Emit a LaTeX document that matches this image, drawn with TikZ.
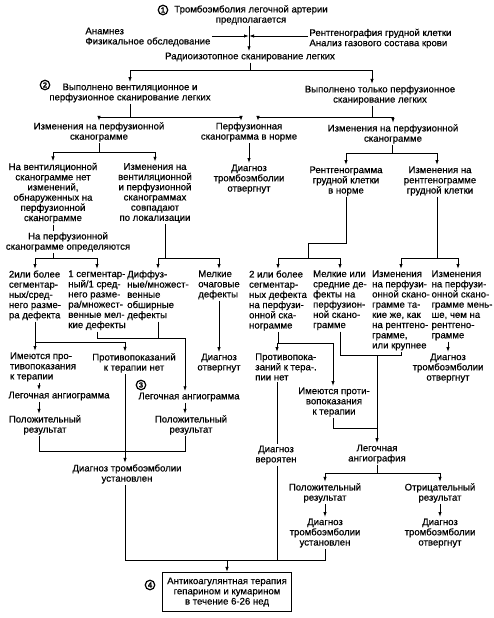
\documentclass[tikz,border=0pt]{standalone}
\usepackage{fontspec}
\setmainfont{Liberation Sans}[FakeBold=0.6]
\usetikzlibrary{arrows.meta}

\begin{document}
\begin{tikzpicture}[x=1pt,y=-1pt,>={Latex[length=5pt,width=3.4pt]},line width=0.9pt,
  font=\fontsize{9.6}{10.2}\selectfont]
\tikzstyle{tx}=[align=center,inner sep=1pt]
\tikzstyle{lx}=[align=left,inner sep=1pt,anchor=north]
\tikzstyle{num}=[circle,draw,line width=1.2pt,inner sep=0pt,minimum size=9.5pt,font=\bfseries\fontsize{7.5}{8}\selectfont]
\useasboundingbox (0,0) rectangle (493,618);

% suspicion and first tests
\node[num] (c1) at (163,10) {1};
\node[tx] (pe) at (251,15) {Тромбоэмболия легочной артерии\\предполагается};
\node[align=left,inner sep=1pt,anchor=west] (anam) at (84,37) {Анамнез\\Физикальное обследование};
\node[align=left,inner sep=1pt,anchor=west] (rgk) at (308,38.5) {Рентгенография грудной клетки\\Анализ газового состава крови};
\node[tx] (rad) at (250,57) {Радиоизотопное сканирование легких};
\coordinate (m0) at (249,36);
\draw[->] (pe.south -| m0) -- (rad.north -| m0);
\draw[->] (anam.east |- m0) -- (m0);
\draw[->] (rgk.west |- m0) -- (m0);

% kind of scan
\coordinate (j0) at (250,70);
\node[num] (c2) at (45,85) {2};
\node[tx] (vv) at (130,93) {Выполнено вентиляционное и\\перфузионное сканирование легких};
\node[tx] (vp) at (380,95) {Выполнено только перфузионное\\сканирование легких};
\draw (rad) -- (j0);
\draw[->] (j0) -| (vv);
\draw[->] (j0) -| ([xshift=-8pt]vp.north);

\node[tx] (izl) at (99,132) {Изменения на перфузионной\\сканограмме};
\node[tx] (pn) at (249,132) {Перфузионная\\сканограмма в норме};
\node[tx] (izr) at (393,134) {Изменения на перфузионной\\сканограмме};
\coordinate (j1) at (130,117);
\coordinate (j2) at (372,117);
\draw (vv) -- (j1);
\draw[->] (j1) -| (izl);
\draw[->] (j1) -| ([xshift=-8pt]pn.north);
\draw ([xshift=-8pt]vp.south) -- (j2);
\draw[->] (j2) -| ([xshift=9pt]pn.north);
\draw[->] (j2) -| (izr);
\node[tx] (dn1) at (249,179) {Диагноз\\тромбоэмболии\\отвергнут};
\draw[->] (pn) -- (dn1);

% ventilation + perfusion
\coordinate (j3) at (99,152);
\node[tx] (nv) at (53,193) {На вентиляционной\\сканограмме нет\\изменений,\\обнаруженных на\\перфузионной\\сканограмме};
\node[tx] (sov) at (155,193) {Изменения на\\вентиляционной\\и перфузионной\\сканограммах\\совпадают\\по локализации};
\draw (izl) -- (j3);
\draw[->] (j3) -| (nv);
\draw[->] (j3) -| (sov);
\node[tx] (npf) at (68,242) {На перфузионной\\сканограмме определяются};
\draw (nv.south) -- (nv.south |- npf.north);
\coordinate (j4) at (53,258);
\draw (npf.south -| j4) -- (j4);
\node[lx] (d2l) at (35,269) {2или более\\сегментар-\\ных/сред-\\него разме-\\ра дефекта};
\node[lx] (s1) at (97,269) {1 сегментар-\\ный/1 сред-\\него разме-\\ра/множест-\\венные мел-\\кие дефекты};
\node[lx] (dif) at (158,269) {Диффуз-\\ные/множест-\\венные\\обширные\\дефекты};
\node[lx] (mel) at (219,269) {Мелкие\\очаговые\\дефекты};
\draw[->] (j4) -| (d2l);
\draw[->] (j4) -| (s1);
\coordinate (j5) at (165,258);
\draw ([xshift=10pt]sov.south) -- (j5);
\draw[->] (j5) -| (dif);
\draw[->] (j5) -| (mel);

% perfusion only
\node[tx] (rn) at (346,181) {Рентгенограмма\\грудной клетки\\в норме};
\node[tx] (izrg) at (440,181) {Изменения на\\рентгенограмме\\грудной клетки};
\coordinate (j6) at (392,153);
\draw (izr.south -| j6) -- (j6);
\draw[->] (j6) -| (rn);
\draw[->] (j6) -| ([xshift=-3pt]izrg.north);
\coordinate (k1) at (308,243);
\coordinate (j7) at (308,258);
\draw (rn) |- (k1) -- (j7);
\node[lx] (d2r) at (278,269) {2 или более\\сегментар-\\ных дефекта\\на перфузи-\\онной ска-\\нограмме};
\node[lx] (mlr) at (340,269) {Мелкие или\\средние де-\\фекты на\\перфузион-\\ной скано-\\грамме};
\draw[->] (j7) -| (d2r);
\draw[->] (j7) -| (mlr);
\coordinate (j8) at (437,258);
\draw ([xshift=-3pt]izrg.south) -- (j8);
\node[lx] (izk) at (401,269) {Изменения\\на перфузи-\\онной скано-\\грамме та-\\кие же, как\\на рентгено-\\грамме,\\или крупнее};
\node[lx] (izm) at (462,269) {Изменения\\на перфузи-\\онной скано-\\грамме мень-\\ше, чем на\\рентгено-\\грамме};
\draw[->] (j8) -| (izk);
\draw[->] (j8) -| ([xshift=-4pt]izm.north);
\node[tx] (dn3) at (448,368) {Диагноз\\тромбоэмболии\\отвергнут};
\draw[->] (izm.south -| dn3) -- (dn3);

% left lower part
\coordinate (j9) at (35,342);
\coordinate (j10) at (125,342);
\node[lx] (imp) at (43,351) {Имеются про-\\тивопоказания\\к терапии};
\node[tx] (pnet) at (134,363) {Противопоказаний\\к терапии нет};
\draw (d2l) -- (j9) -- (j10);
\draw[->] (j9) -- (j9 |- imp.north);
\draw[->] (j10) -- (j10 |- pnet.north);
\coordinate (j11) at (185,338);
\draw (s1) |- (j11);
\draw (dif.south) -- (dif.south |- j11);
\node[tx] (dno) at (219,363) {Диагноз\\отвергнут};
\draw[->] (mel) -- (dno);
\node[num] (c3) at (141,385) {3};
\node[tx] (la1) at (59,396) {Легочная ангиограмма};
\node[tx] (la2) at (189,397) {Легочная ангиограмма};
\draw[->] (j11) -- (j11 |- la2.north);
\coordinate (j12) at (39,451);
\coordinate (j13) at (185,451);
\node[tx] (pl1) at (45,425) {Положительный\\результат};
\node[tx] (pl2) at (191,425) {Положительный\\результат};
\draw[->] (imp.south -| j12) -- (la1.north -| j12);
\draw[->] (la1.south -| j12) -- (pl1.north -| j12);
\draw[->] (la2.south -| j13) -- (pl2.north -| j13);
\draw (pl1.south -| j12) -- (j12) -- (j13) -- (pl2.south -| j13);
\node[tx] (dt1) at (127,474) {Диагноз тромбоэмболии\\установлен};
\draw[->] (pnet.south -| j10) -- (dt1.north -| j10);

% right lower part
\coordinate (j14) at (277,343);
\coordinate (j15) at (333,343);
\node[lx] (pr) at (286,352) {Противопока-\\заний к тера-.\\пии нет};
\node[tx] (imr) at (334,402) {Имеются проти-\\вопоказания\\к терапии};
\draw (d2r) -- (d2r |- j14) -- (j15);
\draw[->] (j14) -- (j14 |- pr.north);
\draw[->] (j15) -- (j15 |- imr.north);
\coordinate (j16) at (340,355);
\coordinate (j17) at (401,355);
\draw (mlr) -- (j16) -- (j17) -- (izk);
\node[tx] (lag) at (377,454) {Легочная\\ангиография};
\coordinate (j18) at (377,428);
\draw[->] (j16 -| lag) -- (lag);
\draw (imr.south -| j15) |- (j18);
\node[tx] (dv) at (276,455) {Диагноз\\вероятен};
\draw (pr.south -| j14) -- (dv.north -| j14);
\coordinate (j19) at (377,473);
\draw (lag) -- (j19);
\node[tx] (pr2) at (325,493) {Положительный\\результат};
\node[tx] (ng) at (440,493) {Отрицательный\\результат};
\draw[->] (j19) -| (pr2);
\draw[->] (j19) -| (ng);
\node[tx] (dt2) at (325,533) {Диагноз\\тромбоэмболии\\установлен};
\node[tx] (dn2) at (440,533) {Диагноз\\тромбоэмболии\\отвергнут};
\draw[->] (pr2) -- (dt2);
\draw[->] (ng) -- (dn2);

% treatment
\coordinate (j21) at (125,560);
\coordinate (j22) at (325,560);
\draw (dt1.south -| j10) -- (j21) -- (j22) -- (dt2);
\draw (dv.south -| j14) -- (j14 |- j21);
\node[num] (c4) at (150,585) {4};
\node[tx,draw,line width=1.1pt,inner sep=3pt,minimum width=129pt,minimum height=39pt] (box) at (227,592) {Антикоагулянтная терапия\\гепарином и кумарином\\в течение 6-26 нед};
\draw[->] (box.north |- j21) -- (box);
\end{tikzpicture}
\end{document}
